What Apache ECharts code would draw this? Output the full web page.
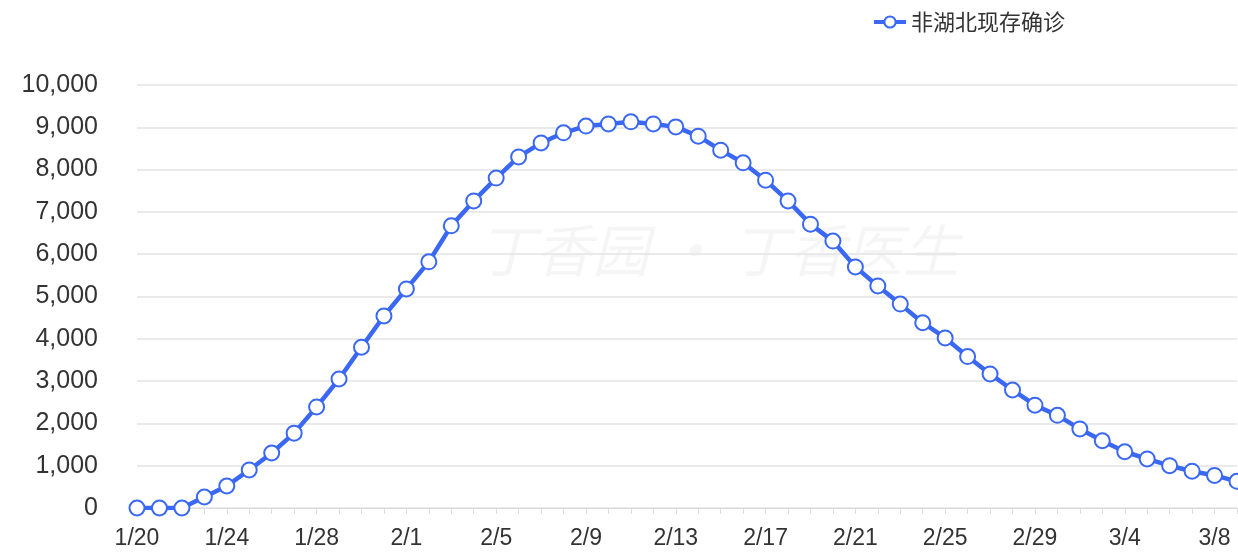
<!DOCTYPE html>
<html>
<head>
<meta charset="utf-8">
<script src="https://cdn.jsdelivr.net/npm/echarts@6/dist/echarts.min.js"></script>
<style>
  html, body { margin: 0; padding: 0; background: #fff; }
  #chart { width: 1238px; height: 553px; }
</style>
</head>
<body>
<div id="chart"></div>
<script>
// dates 1/20 .. 3/9 (2020)
var dates = ['1/20','1/21','1/22','1/23','1/24','1/25','1/26','1/27','1/28','1/29','1/30','1/31',
    '2/1','2/2','2/3','2/4','2/5','2/6','2/7','2/8','2/9','2/10','2/11','2/12','2/13','2/14','2/15',
    '2/16','2/17','2/18','2/19','2/20','2/21','2/22','2/23','2/24','2/25','2/26','2/27','2/28','2/29',
    '3/1','3/2','3/3','3/4','3/5','3/6','3/7','3/8','3/9'];

// 非湖北现存确诊
var confirmed = [0, 0, 0, 260, 520, 900, 1300, 1770, 2390, 3050, 3800, 4540,
    5180, 5820, 6670, 7260, 7800, 8300, 8630, 8870, 9030, 9080, 9130, 9080, 9010, 8790, 8460,
    8160, 7750, 7260, 6710, 6310, 5700, 5250, 4820, 4380, 4020, 3580, 3170, 2790, 2430,
    2190, 1870, 1590, 1330, 1160, 1000, 870, 770, 630];

var seriesName = '非湖北现存确诊';
var blue = '#3a68f4';
var font = 'Helvetica, "Liberation Sans", "Noto Sans CJK SC", sans-serif';

var myChart = echarts.init(document.getElementById('chart'));
var option = {
    backgroundColor: '#fff',
    animation: false,
    textStyle: { fontFamily: font },
    legend: {
        data: [seriesName],
        top: 6,
        right: 168,
        itemWidth: 32,
        itemHeight: 14,
        itemGap: 2,
        lineStyle: { width: 4 },
        itemStyle: { borderWidth: 3 },
        textStyle: { color: '#333', fontSize: 22, fontFamily: '"Noto Sans CJK SC", sans-serif' }
    },
    grid: {
        left: 137,
        right: 1,
        top: 85,
        bottom: 45
    },
    graphic: [{
        type: 'text',
        left: 478,
        top: 222,
        silent: true,
        style: {
            text: '丁香园 · 丁香医生',
            fontSize: 57,
            fontStyle: 'italic',
            fontFamily: '"Noto Sans CJK SC", sans-serif',
            fill: 'rgba(0,0,0,0.04)'
        }
    }],
    xAxis: {
        type: 'category',
        data: dates,
        boundaryGap: false,
        axisLine: { lineStyle: { color: '#dcdcdc', width: 1 } },
        axisTick: { show: true, interval: 0, length: 6, lineStyle: { color: '#dcdcdc' } },
        axisLabel: { interval: 3, color: '#333', fontSize: 23, margin: 19, fontFamily: font }
    },
    yAxis: {
        type: 'value',
        min: 0,
        max: 10000,
        interval: 1000,
        axisLine: { show: false },
        axisTick: { show: false },
        axisLabel: {
            color: '#333',
            fontSize: 25,
            margin: 39,
            fontFamily: font,
            formatter: function (value) {
                return value.toLocaleString('en-US');
            }
        },
        splitLine: { show: true, lineStyle: { color: '#e3e3e3', width: 1.5 } }
    },
    series: [{
        name: seriesName,
        type: 'line',
        data: confirmed,
        symbol: 'emptyCircle',
        symbolSize: 15,
        showAllSymbol: true,
        lineStyle: { color: blue, width: 4.5 },
        itemStyle: { color: blue, borderColor: blue, borderWidth: 3.5 }
    }]
};
myChart.setOption(option);
</script>
</body>
</html>
